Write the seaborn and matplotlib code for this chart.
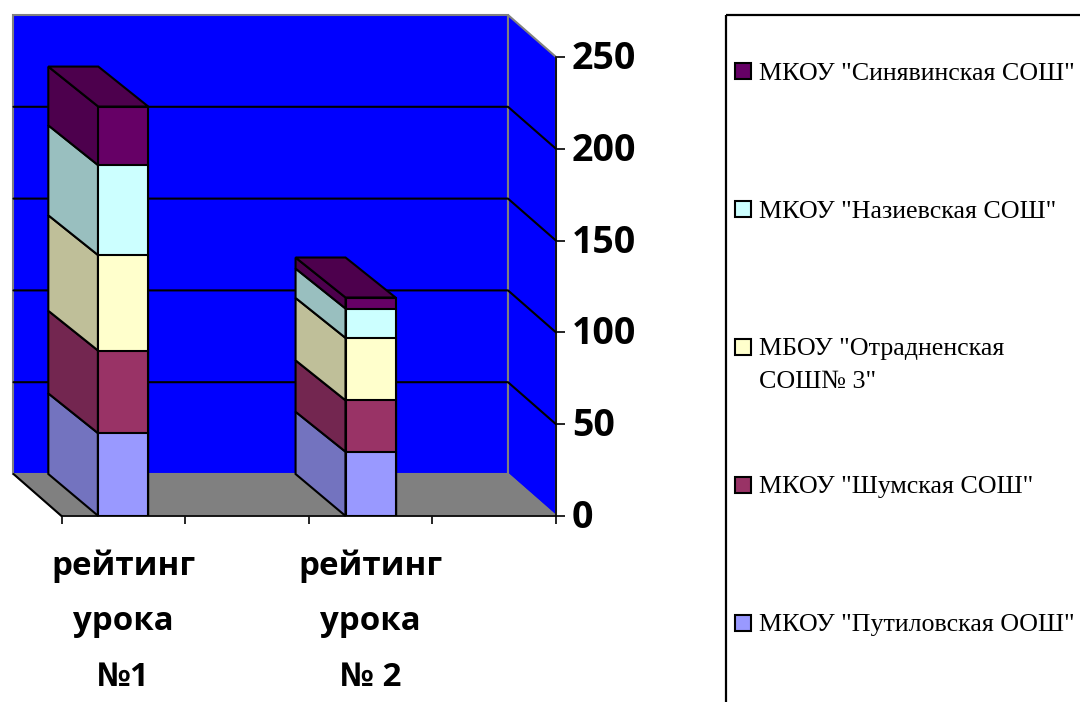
import numpy as np
import matplotlib
matplotlib.use("Agg")
import matplotlib.pyplot as plt
from matplotlib.patches import Polygon, Rectangle
from matplotlib.transforms import ScaledTranslation
import seaborn as sns

# data
categories = ["рейтинг\nурока\n№1", "рейтинг\nурока\n№ 2"]
cat_pos = [0, 2]
series = ['МКОУ "Путиловская ООШ"', 'МКОУ "Шумская СОШ"', 'МБОУ "Отрадненская\nСОШ№ 3"',
          'МКОУ "Назиевская СОШ"', 'МКОУ "Синявинская СОШ"']
putilov = [45, 35]
shum = [45, 28]
otrad = [52, 34]
naziev = [49, 16]
sinyav = [32, 6]
y_ticks = [0, 50, 100, 150, 200, 250]

front_colors = ["#9999FF", "#993366", "#FFFFCC", "#CCFFFF", "#660066"]
side_colors = ["#7373BF", "#732650", "#BFBF99", "#99BFBF", "#4D004D"]

sns.set_theme(style="white")
plt.rcParams["font.family"] = ["Open Sans", "DejaVu Sans"]

W, H = 1080, 702
fig = plt.figure(figsize=(W / 100, H / 100), dpi=100, facecolor="white")
ax = fig.add_axes([61.5 / W, (H - 516) / H, 494.5 / W, 459 / H])
ax.set_facecolor("none")

XMIN, XMAX, YMAX = -0.5, 3.5, 250
px_x = 494.5 / (XMAX - XMIN)
px_y = 459 / YMAX
# depth of the fake 3d box, in data units
wall_dx, wall_dy = -48 / px_x, 42 / px_y
bar_dx, bar_dy = -50 / px_x, 40 / px_y
bar_w = 50 / px_x


def poly(pts, fc, ec="black", lw=1.5, z=1):
    ax.add_patch(Polygon(pts, closed=True, facecolor=fc, edgecolor=ec, linewidth=lw,
                         zorder=z, clip_on=False, joinstyle="miter"))


# walls and floor
bl, br = XMIN + wall_dx, XMAX + wall_dx
poly([(bl, wall_dy), (br, wall_dy), (br, YMAX + wall_dy), (bl, YMAX + wall_dy)], "#0000FF", "#808080", 1.5, 1)
poly([(br, wall_dy), (XMAX, 0), (XMAX, YMAX), (br, YMAX + wall_dy)], "#0000FF", "#808080", 1.5, 1)
poly([(bl, wall_dy), (br, wall_dy), (XMAX, 0), (XMIN, 0)], "#808080", "#808080", 1, 1.5)
ax.plot([bl, XMIN], [wall_dy, 0], color="black", lw=1.5, zorder=2, clip_on=False)
for v in y_ticks[1:-1]:
    ax.plot([bl, br, XMAX], [v + wall_dy, v + wall_dy, v], color="black", lw=1.5, zorder=2, clip_on=False)

# stacked bars: cumulative totals, tallest first so lower ones cover them
stack = np.array([putilov, shum, otrad, naziev, sinyav], dtype=float)
cum = np.cumsum(stack, axis=0)

for j, p in enumerate(cat_pos):
    xl = p - bar_w / 2
    xr = p + bar_w / 2
    low = 0
    for i in range(len(series)):
        high = cum[i, j]
        back_low = wall_dy if low == 0 else low + bar_dy  # foot of the bar sits on the floor edge
        poly([(xl, low), (xl, high), (xl + bar_dx, high + bar_dy), (xl + bar_dx, back_low)],
             side_colors[i], z=3)
        low = high
    poly([(xl, low), (xr, low), (xr + bar_dx, low + bar_dy), (xl + bar_dx, low + bar_dy)],
         side_colors[-1], z=3)

for i in range(len(series) - 1, -1, -1):
    sns.barplot(x=cat_pos, y=cum[i], native_scale=True, width=bar_w / 2, color=front_colors[i],
                saturation=1, edgecolor="black", linewidth=1.5, zorder=4, ax=ax)

ax.set_xlim(XMIN, XMAX)
ax.set_ylim(0, YMAX)
ax.set_xlabel("")
ax.set_ylabel("")

# axes
for s in ["top", "left"]:
    ax.spines[s].set_visible(False)
for s in ["right", "bottom"]:
    ax.spines[s].set_visible(True)
    ax.spines[s].set_color("black")
    ax.spines[s].set_linewidth(1.2)
    ax.spines[s].set_zorder(6)

ax.yaxis.tick_right()
ax.set_yticks(y_ticks)
ax.set_yticklabels([str(v) for v in y_ticks], fontsize=27, fontweight="bold", color="black")
ax.tick_params(axis="y", which="major", right=True, left=False, direction="out", length=6.5, width=1.2,
               color="black", pad=5)
# nudge the numbers up a little, Open Sans sits low against the ticks
for lab in ax.get_yticklabels():
    lab.set_transform(lab.get_transform() + ScaledTranslation(0, 2.5 / 100, fig.dpi_scale_trans))
ax.set_xticks(np.arange(XMIN, XMAX + 0.5, 1))
ax.set_xticklabels([])
ax.tick_params(axis="x", which="major", bottom=True, direction="out", length=6, width=1.2, color="black")
ax.set_xticks(cat_pos, minor=True)
ax.set_xticklabels(categories, minor=True, fontsize=23.8, fontweight="bold", color="black", linespacing=1.9)
ax.tick_params(axis="x", which="minor", bottom=False, length=0, pad=24)

# legend box, drawn in pixels because the wrapped entry keeps the even row spacing
lg = fig.add_axes([0, 0, 1, 1], facecolor="none")
lg.set_xlim(0, W)
lg.set_ylim(H, 0)
lg.axis("off")
lg.add_patch(Rectangle((726, 15), 360, 700, facecolor="none", edgecolor="black", linewidth=1.6))
for k, name in enumerate(series[::-1]):
    yc = 70.5 + k * 138
    lg.add_patch(Rectangle((735, yc - 8), 16, 16, facecolor=front_colors[::-1][k], edgecolor="black", linewidth=1.5))
    lines = name.split("\n")
    for n, line in enumerate(lines):
        lg.text(759, yc + 9 + n * 32, line, family="Liberation Serif", fontsize=18.7, color="black",
                va="baseline", ha="left")

fig.savefig("out.png", dpi=100)
